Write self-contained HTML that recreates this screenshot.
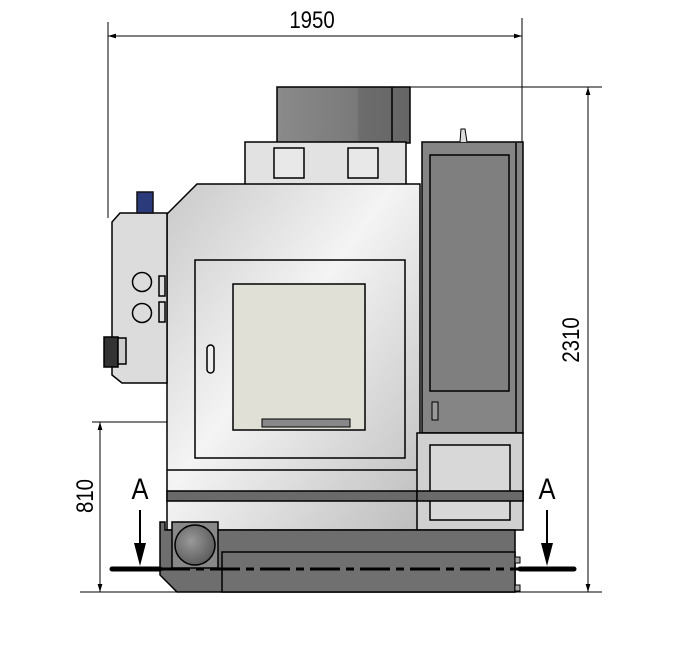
<!DOCTYPE html>
<html><head><style>body{margin:0;background:#fff}svg{display:block}</style></head><body>
<svg width="700" height="649" viewBox="0 0 700 649" xmlns="http://www.w3.org/2000/svg" font-family="Liberation Sans, sans-serif">
<defs>
<linearGradient id="body" x1="0" y1="0" x2="1" y2="1"><stop offset="0" stop-color="#c9c9c9"/><stop offset="0.45" stop-color="#f4f4f4"/><stop offset="1" stop-color="#bdbdbd"/></linearGradient>
<linearGradient id="motor" x1="0" y1="0" x2="1" y2="0"><stop offset="0" stop-color="#8a8a8a"/><stop offset="0.6" stop-color="#7a7a7a"/><stop offset="0.62" stop-color="#6c6c6c"/><stop offset="1" stop-color="#666"/></linearGradient>
<radialGradient id="mot" cx="0.4" cy="0.4" r="0.7"><stop offset="0" stop-color="#999"/><stop offset="1" stop-color="#555"/></radialGradient>
<marker id="ar" viewBox="0 0 10 10" refX="10" refY="5" markerWidth="8" markerHeight="8" orient="auto-start-reverse"><path d="M0,2 L10,5 L0,8 z" fill="#000"/></marker>
</defs>
<g stroke="#000" stroke-width="1">
<line x1="108" y1="36" x2="522" y2="36" marker-start="url(#ar)" marker-end="url(#ar)"/>
<line x1="108" y1="22" x2="108" y2="218"/>
<line x1="522" y1="18" x2="522" y2="430"/>
<line x1="588" y1="87" x2="588" y2="592" marker-start="url(#ar)" marker-end="url(#ar)"/>
<line x1="410" y1="87" x2="602" y2="87"/>
<line x1="80" y1="592" x2="602" y2="592"/>
<line x1="100" y1="422" x2="100" y2="592" marker-start="url(#ar)" marker-end="url(#ar)"/>
<line x1="92" y1="422" x2="258" y2="422"/>
</g>
<text transform="translate(312,28) scale(0.85,1)" font-size="24" text-anchor="middle">1950</text>
<text transform="translate(579,340) rotate(-90) scale(0.85,1)" font-size="24" text-anchor="middle">2310</text>
<text transform="translate(93,496) rotate(-90) scale(0.85,1)" font-size="24" text-anchor="middle">810</text>
<g stroke="#000" stroke-width="1.5">
<rect x="277" y="87" width="133" height="56" fill="url(#motor)"/>
<line x1="392" y1="87" x2="392" y2="143"/>
<rect x="245" y="142" width="161" height="43" fill="#e2e2e2"/>
<rect x="274" y="148" width="30" height="30" fill="#e8e8e8"/>
<rect x="348" y="148" width="30" height="30" fill="#e8e8e8"/>
<path d="M197,184 L420,184 L420,530 L167,530 L167,214 Z" fill="url(#body)"/>
<path d="M120,213 L167,213 L167,383 L122,383 L112,375 L112,222 Z" fill="#dcdcdc"/>
<rect x="137" y="192" width="16" height="21" fill="#2a3a7a" stroke="#111"/>
<circle cx="142" cy="282" r="9.5" fill="none"/>
<circle cx="142" cy="313" r="9.5" fill="none"/>
<rect x="159" y="276" width="6" height="20" fill="#ddd"/>
<rect x="159" y="302" width="6" height="20" fill="#ddd"/>
<rect x="104" y="337" width="14" height="30" fill="#333"/>
<rect x="118" y="338" width="8" height="26" fill="#ccc"/>
<rect x="195" y="260" width="210" height="198" fill="none"/>
<rect x="233" y="284" width="132" height="146" fill="#e0e0d6"/>
<rect x="207" y="345" width="7" height="28" rx="3.5" fill="#eee"/>
<rect x="262" y="419" width="88" height="8" fill="#888" stroke-width="1"/>
<line x1="167" y1="470" x2="420" y2="470"/>
<rect x="167" y="491" width="356" height="10" fill="#6a6a6a"/>
<rect x="422" y="142" width="101" height="291" fill="#858585"/>
<rect x="430" y="155" width="79" height="236" fill="#7f7f7f"/>
<line x1="516" y1="143" x2="516" y2="432"/>
<rect x="432" y="402" width="6" height="18" fill="#999" stroke-width="1"/>
<path d="M460,142 L461,129 L465,129 L467,142" fill="#ddd" stroke-width="1"/>
<rect x="417" y="433" width="106" height="97" fill="#d0d0d0"/>
<rect x="430" y="445" width="80" height="75" fill="#d8d8d8"/>
<rect x="417" y="491" width="106" height="10" fill="#6a6a6a"/>
<path d="M160,522 L165,522 L165,530 L515,530 L515,592 L177,592 L160,575 Z" fill="#6e6e6e"/>
<rect x="222" y="552" width="293" height="40" fill="#707070"/>
<rect x="172" y="522" width="46" height="46" fill="#888"/>
<circle cx="195" cy="545" r="20" fill="url(#mot)"/>
<rect x="515" y="557" width="5" height="6" fill="#aaa" stroke-width="1"/>
<rect x="515" y="585" width="5" height="6" fill="#aaa" stroke-width="1"/>
</g>
<line x1="112" y1="569" x2="160" y2="569" stroke="#000" stroke-width="5" stroke-linecap="round"/>
<line x1="520" y1="569" x2="574" y2="569" stroke="#000" stroke-width="5" stroke-linecap="round"/>
<line x1="160" y1="569" x2="520" y2="569" stroke="#000" stroke-width="3" stroke-dasharray="30,6,8,6"/>
<g stroke="#000" stroke-width="2"><line x1="140" y1="510" x2="140" y2="545"/><line x1="547" y1="510" x2="547" y2="545"/></g>
<path d="M134,543 L146,543 L140,566 Z M541,543 L553,543 L547,566 Z"/>
<text transform="translate(140,499) scale(0.85,1)" font-size="30" text-anchor="middle">A</text>
<text transform="translate(547,499) scale(0.85,1)" font-size="30" text-anchor="middle">A</text>
</svg>
</body></html>
